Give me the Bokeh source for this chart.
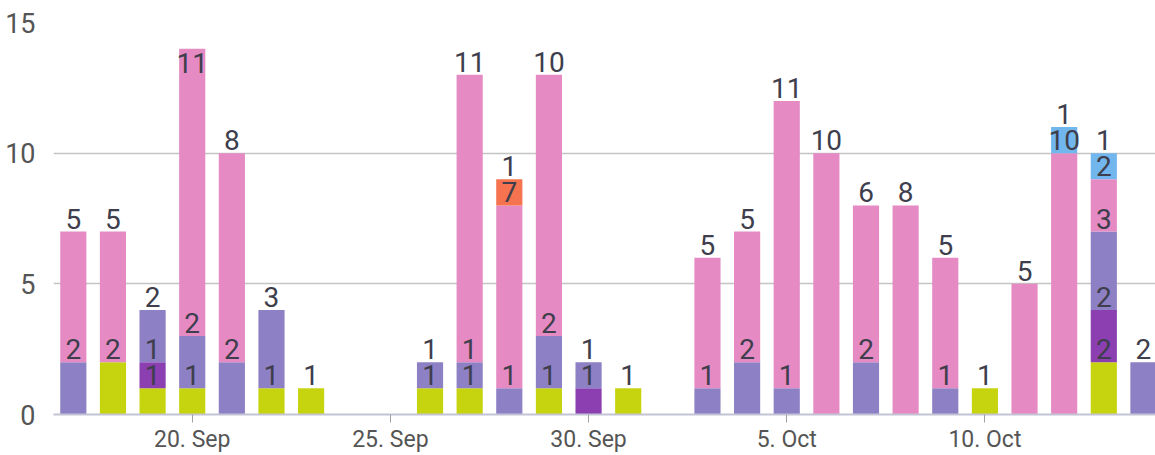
import pandas as pd
from bokeh.plotting import figure
from bokeh.models import ColumnDataSource, Range1d, FixedTicker
from bokeh.core.properties import value
from bokeh.embed import file_html
from bokeh.resources import INLINE

# Daily counts, 17 Sep - 14 Oct
dates = pd.date_range("2015-09-17", "2015-10-14", freq="D")

green = [0, 2, 1, 1, 0, 1, 1, 0, 0, 1, 1, 0, 1, 0,
         1, 0, 0, 0, 0, 0, 0, 0, 0, 1, 0, 0, 2, 0]
dark_purple = [0, 0, 1, 0, 0, 0, 0, 0, 0, 0, 0, 0, 0, 1,
               0, 0, 0, 0, 0, 0, 0, 0, 0, 0, 0, 0, 2, 0]
purple = [2, 0, 2, 2, 2, 3, 0, 0, 0, 1, 1, 1, 2, 1,
          0, 0, 1, 2, 1, 0, 2, 0, 1, 0, 0, 0, 3, 2]
pink = [5, 5, 0, 11, 8, 0, 0, 0, 0, 0, 11, 7, 10, 0,
        0, 0, 5, 5, 11, 10, 6, 8, 5, 0, 5, 10, 2, 0]
orange = [0, 0, 0, 0, 0, 0, 0, 0, 0, 0, 0, 1, 0, 0,
          0, 0, 0, 0, 0, 0, 0, 0, 0, 0, 0, 0, 0, 0]
blue = [0, 0, 0, 0, 0, 0, 0, 0, 0, 0, 0, 0, 0, 0,
        0, 0, 0, 0, 0, 0, 0, 0, 0, 0, 0, 1, 1, 0]

series_names = ["green", "dark_purple", "purple", "pink", "orange", "blue"]
series_values = [green, dark_purple, purple, pink, orange, blue]
series_colors = ["#c6d40f", "#8b3fb0", "#8d80c4", "#e68ac4", "#f5734f", "#72b6ee"]

tick_dates = ["2015-09-20", "2015-09-25", "2015-09-30", "2015-10-05", "2015-10-10"]
tick_labels = ["20. Sep", "25. Sep", "30. Sep", "5. Oct", "10. Oct"]
y_ticks = [0, 5, 10, 15]

FONT = "Roboto"
DAY = 24 * 3600 * 1000

source = ColumnDataSource(dict(date=dates, **dict(zip(series_names, series_values))))

x_start = dates[0] - pd.Timedelta(hours=12)
x_end = dates[-1] + pd.Timedelta(hours=7.3)

p = figure(width=1155, height=455, x_axis_type="datetime",
           x_range=Range1d(x_start, x_end), y_range=Range1d(0, 15),
           output_backend="svg", toolbar_location=None,
           min_border_left=53, min_border_right=0, min_border_top=22,
           min_border_bottom=38)
p.outline_line_color = None
p.background_fill_color = "white"

p.vbar_stack(series_names, x="date", width=0.66 * DAY, color=series_colors,
             line_color=None, source=source)

# Value labels sitting on top of each segment
lx, ly, lt, loff, lbase = [], [], [], [], []
for i, d in enumerate(dates):
    cum = 0
    for vals in series_values:
        v = vals[i]
        if v == 0:
            continue
        cum += v
        lx.append(d)
        ly.append(cum)
        lt.append(str(v))
        if cum > 13.5:
            loff.append(4)
            lbase.append("top")
        else:
            loff.append(-3)
            lbase.append("bottom")

for base in ("bottom", "top"):
    idx = [k for k, b in enumerate(lbase) if b == base]
    if not idx:
        continue
    src = ColumnDataSource(dict(x=[lx[k] for k in idx], y=[ly[k] for k in idx],
                                t=[lt[k] for k in idx], off=[loff[k] for k in idx]))
    p.text(x="x", y="y", text="t", y_offset="off", source=src,
           text_align="center", text_baseline=base,
           text_font=value(FONT), text_font_size="28px", text_color="#3e3e4c")

# Axes
p.xgrid.visible = False
p.ygrid.ticker = FixedTicker(ticks=y_ticks)
p.ygrid.grid_line_color = "#c4c4c4"
p.ygrid.grid_line_width = 1.5

p.yaxis.ticker = FixedTicker(ticks=y_ticks)
p.yaxis.axis_line_color = None
p.yaxis.major_tick_line_color = None
p.yaxis.major_tick_out = 0
p.yaxis.minor_tick_line_color = None
p.yaxis.major_label_standoff = 18
p.yaxis.major_label_text_font = FONT
p.yaxis.major_label_text_font_size = "27px"
p.yaxis.major_label_text_color = "#555555"

tick_ms = [pd.Timestamp(t).value // 10**6 for t in tick_dates]
p.xaxis.ticker = FixedTicker(ticks=tick_ms)
p.xaxis.major_label_overrides = {float(t): lab for t, lab in zip(tick_ms, tick_labels)}
p.xaxis.axis_line_color = "#c3c3d6"
p.xaxis.axis_line_width = 2
p.xaxis.major_tick_line_color = "#a0a0a0"
p.xaxis.major_tick_in = 0
p.xaxis.major_tick_out = 8
p.xaxis.minor_tick_line_color = None
p.xaxis.major_label_standoff = 3
p.xaxis.major_label_text_font = FONT
p.xaxis.major_label_text_font_size = "23px"
p.xaxis.major_label_text_color = "#555555"

open("out.html", "w").write(file_html(p, INLINE))
